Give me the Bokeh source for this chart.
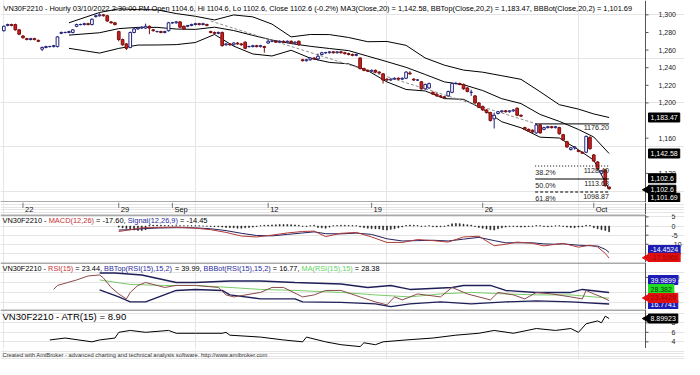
import math
from bokeh.plotting import figure
from bokeh.layouts import column
from bokeh.models import Range1d, Label
from bokeh.core.properties import value
from bokeh.embed import file_html
from bokeh.resources import INLINE

# ---------------- data ----------------
opens = [1282,1288,1289,1289,1283,1276,1273,1272,1273,1271,
         1261,1263,1264,1264,1264,1279,1280,1280,1280,1287,
         1289,1289,1290,1289,1298,1299,1300,1299,1292,1291,
         1281,1272,1267,1263,1280,1284,1285,1285,1287,1283,
         1281,1281,1280,1282,1291,1291,1292,1287,1287,1288,
         1289,1290,1289,1289,1281,1280,1279,1280,1266,1267,
         1266,1268,1267,1269,1264,1264,1265,1264,1264,1268,
         1270,1270,1269,1270,1269,1270,1268,1270,1249,1248,
         1249,1251,1250,1255,1257,1257,1258,1257,1258,1257,
         1256,1255,1254,1251,1239,1237,1236,1237,1235,1233,
         1227,1226,1227,1228,1227,1228,1234,1227,1226,1224,
         1216,1217,1212,1210,1208,1207,1208,1212,1222,1222,
         1221,1217,1212,1208,1200,1196,1192,1189,1182,1188,
         1190,1191,1190,1191,1194,1186,1172,1170,1169,1166,
         1175,1170,1172,1173,1172,1172,1164,1156,1147,1149,
         1146,1144,1144,1161,1141,1133,1120,1124,1104.6]
highs = [1288,1290,1290,1290,1284,1277,1274,1274,1274,1272,
         1264,1265,1265,1266,1276,1281,1281,1282,1284,1290,
         1290,1291,1291,1296,1300,1302,1301,1300,1293,1292,
         1282,1273,1268,1281,1285,1286,1287,1290,1288,1284,
         1282,1282,1282,1292,1292,1293,1293,1288,1288,1290,
         1291,1291,1291,1290,1282,1281,1281,1281,1268,1268,
         1269,1269,1268,1270,1265,1266,1266,1266,1265,1272,
         1271,1271,1271,1271,1271,1271,1270,1271,1250,1250,
         1252,1252,1256,1258,1258,1259,1259,1259,1259,1258,
         1257,1256,1256,1252,1240,1238,1238,1238,1236,1234,
         1228,1228,1229,1229,1229,1236,1236,1228,1227,1225,
         1222,1223,1213,1211,1209,1208,1214,1223,1224,1223,
         1222,1218,1215,1209,1201,1197,1193,1190,1189,1191,
         1192,1192,1192,1193,1195,1187,1173,1171,1170,1176.2,
         1176,1173,1174,1174,1174,1173,1165,1157,1150,1151,
         1147,1145,1163,1162,1142,1134,1124,1125,1104.6]
lows = [1281,1287,1287,1282,1277,1273,1271,1271,1271,1269,
        1259,1262,1263,1263,1263,1278,1279,1279,1279,1286,
        1288,1288,1288,1288,1297,1298,1298,1292,1290,1288,
        1270,1265,1260,1262,1279,1283,1284,1284,1278,1281,
        1280,1279,1279,1281,1290,1290,1285,1283,1286,1287,
        1288,1288,1288,1287,1279,1278,1278,1264,1265,1265,
        1265,1266,1265,1261,1263,1263,1263,1263,1257,1267,
        1269,1268,1268,1268,1268,1267,1267,1265,1247,1247,
        1248,1249,1248,1254,1256,1256,1256,1256,1256,1255,
        1254,1253,1253,1238,1236,1235,1235,1234,1233,1222,
        1225,1225,1226,1226,1226,1227,1232,1225,1225,1215,
        1215,1216,1209,1207,1206,1205,1207,1211,1221,1220,
        1215,1212,1208,1199,1194,1191,1188,1179,1171,1187,
        1189,1189,1189,1190,1185,1184,1169,1167,1166,1165,
        1165,1169,1171,1171,1171,1164,1157,1149,1146,1147,
        1144,1142,1143,1147,1133,1124,1118,1105,1102.6]
closes = [1287,1289,1288,1283,1278,1274,1272,1273,1272,1270,
          1263,1264,1264,1265,1275,1280,1280,1281,1283,1289,
          1289,1290,1289,1295,1299,1300,1299,1293,1291,1289,
          1272,1266,1262,1280,1284,1285,1286,1287,1285,1282,
          1281,1280,1281,1291,1291,1292,1286,1284,1288,1289,
          1290,1289,1290,1288,1280,1279,1280,1265,1267,1266,
          1268,1267,1266,1262,1264,1265,1264,1265,1263,1270,
          1270,1269,1270,1269,1270,1268,1269,1266,1248,1249,
          1251,1250,1253,1257,1257,1258,1257,1258,1257,1256,
          1255,1254,1255,1239,1237,1236,1237,1235,1234,1226,
          1226,1227,1228,1227,1228,1235,1233,1226,1226,1216,
          1221,1222,1210,1208,1207,1206,1213,1222,1222,1221,
          1216,1213,1212,1200,1195,1192,1189,1180,1186,1190,
          1191,1190,1191,1192,1186,1185,1170,1168,1167,1175,
          1166,1172,1173,1172,1173,1165,1158,1150,1149,1150,
          1145,1143,1162,1148,1134,1125,1123,1106,1102.6]

# Bollinger bands on price (sampled bars)
bb_x = [17, 25, 30, 35, 40, 45, 50, 55, 60, 65, 70, 75, 80, 85, 90, 95, 100, 105, 110, 115,
        120, 125, 130, 135, 140, 145, 150, 154, 158]
bb_top = [1291, 1302.7, 1306.8, 1305.9, 1305.7, 1301.5, 1298.4, 1294.2, 1299.9, 1297.7, 1289.5, 1275.0,
          1277.7, 1277.6, 1274.3, 1269.5, 1269.8, 1265.4, 1251.0, 1242.9, 1237.3, 1234.9, 1230.9, 1226.8,
          1212.7, 1198.0, 1193.0, 1187.5, 1183.47]
bb_mid = [1277, 1279.7, 1284.4, 1285.8, 1285.8, 1283.9, 1283.5, 1286.0, 1282.2, 1276.7, 1271.4, 1267.4,
          1264.3, 1261.8, 1259.4, 1253.1, 1246.9, 1240.4, 1232.3, 1223.9, 1220.7, 1214.1, 1204.8, 1199.3,
          1186.9, 1179.1, 1169.9, 1161.3, 1142.58]
bb_bot = [1262, 1256.6, 1261.9, 1265.7, 1265.8, 1266.2, 1268.6, 1277.7, 1264.5, 1255.6, 1253.3, 1259.8,
          1250.8, 1246.0, 1244.4, 1236.7, 1223.9, 1215.3, 1213.6, 1204.9, 1204.1, 1193.2, 1178.6, 1171.8,
          1161.1, 1160.2, 1146.8, 1135.0, 1101.69]

trend_x = [54, 139]
trend_y = [1293, 1176.2]

fib_levels = [1176.20, 1128.40, 1113.63, 1098.87]
fib_pct = ["", "38.2%", "50.0%", "61.8%"]
fib_vals = ["1176.20", "1128.40", "1113.63", "1098.87"]
fib_x = [138.7, 158]

date_ticks = [5, 30, 44, 69, 96, 125, 154]
date_labels = ["22", "29", "Sep", "12", "19", "26", "Oct"]
price_ticks = [1120, 1160, 1200, 1220, 1240, 1260, 1280, 1300]

# MACD
macd_x = [30, 33, 36, 40, 45, 50, 54, 58, 62, 66, 70, 74, 78, 81, 84, 88, 92, 96, 100, 104,
          108, 112, 116, 120, 124, 128, 131, 134, 138, 141, 144, 146, 150, 153, 155, 157, 158]
macd = [-3.0, -2.0, -1.0, -0.8, -0.6, -1.2, -2.0, -3.5, -5.5, -6.0, -5.0, -3.8, -3.0, -2.8, -5.8,
        -4.0, -3.5, -6.0, -9.0, -9.0, -7.4, -8.0, -8.8, -6.0, -5.6, -10.8, -10.0, -8.8, -9.5, -10.9,
        -10.0, -9.5, -11.6, -10.5, -11.5, -15.0, -17.6]
signal = [-2.2, -2.0, -1.5, -1.1, -0.9, -1.0, -1.5, -2.5, -4.0, -5.2, -5.4, -4.6, -3.8, -3.2, -4.2,
          -4.3, -3.9, -4.6, -7.0, -8.2, -8.0, -7.8, -8.2, -7.2, -6.2, -8.0, -9.2, -9.2, -9.2, -9.8,
          -10.0, -9.8, -10.5, -10.8, -11.0, -12.8, -14.45]
hist_start = 30
hist = [-0.6, -1.0, -1.4, -1.8, -2.2, -2.4, -2.4, -2.0,
        0.4, 0.5, 0.5, 0.4, 0.3, 0.3, 0.2, 0.2,
        0.2, 0.1, 0.1, 0.2, 0.2, 0.1, 0.0, -0.1, -0.2, -0.3,
        -0.4, -0.6, -0.8, -0.9, -1.0, -1.2, -1.2, -1.0, -0.8, -0.6, -0.3,
        0.2, 0.4, 0.5, 0.6, 0.7, 0.8, 0.8, 0.8, 0.7, 0.6, 0.4,
        -0.2, -0.3, 0.2, 0.4, -0.8, -1.0, -1.2, -0.6, 0.2, 0.3, 0.4, 0.4, 0.3, 0.3, 0.2,
        -0.5, -0.9, -1.2, -1.4, -1.5, -1.6, -2.0, -2.2, -1.8, -1.5, -1.0, -0.5, 0.3, 0.5, 0.4,
        0.3, -0.2, -0.1, 0.2, -0.4, -0.5, -0.4, -0.2, 0.5, 1.2, 1.4, 1.3, 1.0, 0.7, 0.5,
        -0.3, -0.8, -1.2, -1.6, -2.0, -2.2, -1.5, -1.0, -0.6, -0.3, -0.2, -0.4, -0.6, -0.5, -0.3,
        -0.2, 0.3, 0.2, -0.3, -0.4, -0.2, 0.1, 0.2, -0.2, -0.6, -0.8, -0.9, -0.6,
        -0.4, 0.4, 0.3, -0.9, -1.5, -2.0, -2.4, -3.15]
macd_ticks = [-10, -5, 0, 5]

# RSI
rsi_x = [13, 14, 19, 22, 25, 26, 28, 30, 32, 33, 35, 37, 42, 45, 50, 56, 58, 60, 67, 70, 73, 78, 81, 84,
         88, 93, 97, 100, 102, 104, 108, 114, 117, 121, 124, 127, 129, 133, 136, 139, 143, 148, 151,
         152, 154, 156, 158]
rsi = [46, 54, 65, 73, 75, 69, 50, 37, 27, 40, 54, 60, 50, 54, 54, 50, 35, 31, 40, 50, 50, 31, 35, 44,
       44, 31, 21, 15, 31, 25, 37, 31, 50, 37, 31, 25, 40, 35, 27, 40, 37, 31, 27, 44, 37, 31, 23.44]
rsi_top_x = [25, 29, 36, 45, 50, 59, 67, 76, 88, 95, 101, 106, 117, 120, 127, 131, 139, 148, 151, 158]
rsi_top = [79, 79, 75, 60, 60, 63, 63, 60, 57, 50, 54, 46, 50, 54, 54, 44, 40, 40, 46, 39.99]
rsi_bot_x = [25, 30, 33, 37, 45, 50, 57, 59, 67, 76, 78, 88, 97, 101, 106, 114, 122, 131, 139, 148, 158]
rsi_bot = [45, 31, 21, 21, 44, 46, 44, 35, 27, 27, 21, 20, 17, 11.5, 17, 21, 17, 21, 23, 21, 16.77]
rsi_ma_x = [25, 33, 42, 50, 59, 67, 76, 88, 97, 106, 114, 122, 131, 139, 148, 158]
rsi_ma = [65, 56, 54, 54, 50, 46, 44, 40, 35, 31, 37, 40, 37, 35, 35, 28.38]
rsi_ticks = [70]

# ATR
atr_x = [12, 16, 23, 25, 29, 30, 33, 37, 43, 45, 50, 57, 58, 59, 67, 73, 78, 79, 84, 88,
         93, 94, 97, 99, 105, 112, 118, 124, 128, 133, 139, 144, 148, 150, 152, 155, 156, 157, 158]
atr = [4.4, 4.8, 4.0, 4.4, 4.8, 6.0, 6.4, 6.0, 6.4, 5.8, 5.8, 5.8, 6.0, 5.4, 5.0, 4.4, 4.0, 5.0, 4.0, 3.4,
       3.0, 3.8, 3.4, 4.0, 4.4, 4.8, 5.4, 5.8, 6.4, 5.8, 6.8, 6.4, 6.8, 6.0, 7.8, 8.4, 8.0, 9.4, 8.9]
atr_ticks = [4, 6, 8]

# ---------------- layout ----------------
TOTAL_W = 684
PLOT_W = 645
XS = -0.87
AX = 167.5                       # bar position of the value-axis line
PXB = PLOT_W / (AX - XS)         # pixels per bar
XR = Range1d(XS, XS + TOTAL_W / PXB)
FONT = "Liberation Sans"
RED = "#c83232"
BLUE = "#2b2b9c"
GREEN = "#5fd35f"
SEP = "#555555"
AXC = "#555555"
TFS = 7.0

AW = dict(zip("ABCDEFGHIJKLMNOPQRSTUVWXYZ",
              [667,667,722,722,667,611,778,722,278,500,667,556,833,722,778,667,778,722,667,611,722,667,944,667,667,611]))
AW.update(zip("abcdefghijklmnopqrstuvwxyz",
              [556,556,500,556,556,278,556,556,222,222,500,222,833,556,556,556,556,333,500,278,556,500,722,500,500,500]))
AW.update({c: 556 for c in "0123456789"})
AW.update({" ": 278, ",": 278, ".": 278, ":": 278, "/": 278, "-": 333, "(": 333, ")": 333, "=": 584, "%": 889})


def em(s):
    return sum(AW.get(c, 556) for c in s) / 1000.0


def mkfig(h, yr):
    p = figure(frame_width=TOTAL_W, frame_height=h, x_range=XR, y_range=yr,
               output_backend="svg", toolbar_location=None,
               x_axis_location=None, y_axis_location=None,
               min_border_left=0, min_border_right=0, min_border_top=0, min_border_bottom=0,
               background_fill_color="white", border_fill_color="white")
    p.outline_line_color = None
    return p


def px2y(p, d):
    return d * (p.y_range.end - p.y_range.start) / p.frame_height


def frame_lines(p, top=False, bottom=False, vline=True):
    yr = p.y_range
    d = px2y(p, 0.5)
    if top:
        p.segment(x0=[XS], y0=[yr.end - d], x1=[AX], y1=[yr.end - d], line_color=SEP, line_width=1)
    if bottom:
        p.segment(x0=[XS], y0=[yr.start + d], x1=[AX], y1=[yr.start + d], line_color=SEP, line_width=1)
    if vline:
        p.segment(x0=[AX], y0=[yr.start], x1=[AX], y1=[yr.end], line_color=AXC, line_width=1)


def yticks(p, ticks, labels, off):
    n = len(ticks)
    p.segment(x0=[AX] * n, y0=ticks, x1=[AX + 3 / PXB] * n, y1=ticks, line_color=AXC, line_width=1)
    p.text(x=[AX] * n, y=ticks, text=labels, x_offset=off, text_baseline="middle", text_align="left",
           text_font=value(FONT), text_font_size=value("7px"), text_color="#222222")


def title(p, segs, left, width, yoff=-1):
    full = "".join(s for s, c in segs)
    fs = width / em(full)
    x = left
    for s, c in segs:
        lead = len(s) - len(s.lstrip())
        txt = s.strip()
        if txt:
            p.add_layout(Label(x=XS, y=p.y_range.end, x_offset=x + em(s[:lead]) * fs, y_offset=yoff,
                               text=txt, text_color=c, text_font=FONT, text_font_size="%.2fpx" % fs,
                               text_baseline="top", text_align="left"))
        x += em(s) * fs


def tag(p, yv, txt, bg, fg, dy=0, arrow=False):
    y = yv + px2y(p, dy)
    w = em(txt) * TFS + 4
    cx = AX + (3 + w / 2) / PXB
    if arrow:
        p.scatter(x=[AX + 1.5 / PXB], y=[y], marker="triangle", size=8, angle=math.pi / 2,
                  fill_color=bg, line_color=bg)
    p.rect(x=[cx], y=[y], width=w, height=9, width_units="screen", height_units="screen",
           fill_color=bg, line_color=bg)
    p.text(x=[AX], y=[y], text=[txt], x_offset=5, text_baseline="middle", text_align="left",
           text_font=value(FONT), text_font_size=value("%.1fpx" % TFS), text_color=fg)


# ---- main price pane ----
pm = mkfig(202, Range1d(1086.96, 1316.3))
frame_lines(pm, bottom=True)
yticks(pm, price_ticks, ["{:,}".format(t) for t in price_ticks], 13)

idx = list(range(len(closes)))
up = [c >= o for o, c in zip(opens, closes)]
cs = dict(
    x=idx, o=opens, h=highs, l=lows, c=closes,
    top=[max(o, c) for o, c in zip(opens, closes)],
    bot=[min(o, c) for o, c in zip(opens, closes)],
    fill=["white" if u else "#cc1f1f" for u in up],
    line=["#23237a" if u else "#7a1010" for u in up],
)
pm.line(bb_x, bb_top, line_color="black", line_width=1)
pm.line(bb_x, bb_mid, line_color="black", line_width=1)
pm.line(bb_x, bb_bot, line_color="black", line_width=1)
pm.line(trend_x, trend_y, line_color="#8c8c8c", line_width=1, line_dash="3 2")

pm.segment(x0="x", y0="l", x1="x", y1="h", line_color="line", line_width=1, source=cs)
pm.vbar(x="x", width=0.7, top="top", bottom="bot", fill_color="fill", line_color="line", line_width=1, source=cs)

dashes = ["solid", "1 2", "solid", "3 2"]
for lv, d in zip(fib_levels, dashes):
    pm.line(fib_x, [lv, lv], line_color="black", line_width=1, line_dash=d)
pm.text(x=[fib_x[0]] * 3, y=fib_levels[1:], text=fib_pct[1:], text_font=value(FONT),
        text_font_size=value("7.2px"), text_baseline="top", text_align="left", y_offset=1.5,
        text_color="#222222")
pm.text(x=[fib_x[1]] * 4, y=fib_levels, text=fib_vals, text_font=value(FONT),
        text_font_size=value("7.2px"), text_baseline="top", text_align="right", y_offset=1.5,
        text_color="#222222")

title(pm, [("VN30F2210 - Hourly 03/10/2022 2:30:00 PM Open 1104.6, Hi 1104.6, Lo 1102.6, Close 1102.6 (-0.2%) "
            "MA3(Close,20) = 1,142.58, BBTop(Close,20,2) = 1,183.47, BBBot(Close,20,2) = 1,101.69", "black")],
      3, 632, yoff=-3)

tag(pm, 1183.47, "1,183.47", "black", "white")
tag(pm, 1142.58, "1,142.58", "black", "white")
tag(pm, 1102.6, "1,102.6", "black", "white", dy=10.5)
tag(pm, 1102.6, "1,102.6", "black", "white", dy=-1, arrow=True)
tag(pm, 1101.69, "1,101.69", "black", "white", dy=-8.2)

# ---- date strip ----
pdt = mkfig(12, Range1d(0, 1))
frame_lines(pdt)
pdt.segment(x0=date_ticks, y0=[1] * len(date_ticks), x1=date_ticks, y1=[0.55] * len(date_ticks),
            line_color="#777777", line_width=1)
pdt.text(x=date_ticks, y=[0.45] * len(date_ticks), text=date_labels, text_font=value(FONT),
         text_font_size=value("7.5px"), text_baseline="middle", text_align="left", x_offset=2,
         text_color="#111111")

# ---- MACD pane ----
pmacd = mkfig(48, Range1d(-20, 6.32))
frame_lines(pmacd, top=True)
yticks(pmacd, macd_ticks, [str(t) for t in macd_ticks], 26)
hx = [hist_start + k for k in range(len(hist))]
pmacd.vbar(x=hx, width=0.25, top=hist, bottom=0, fill_color="#222222", line_color="#222222", line_width=0.6)
pmacd.line(macd_x, signal, line_color="#22225e", line_width=1)
pmacd.line(macd_x, macd, line_color="#b03a3a", line_width=1)
title(pmacd, [("VN30F2210 - ", "black"), ("MACD(12,26)", RED), (" = -17.60, ", "black"),
              ("Signal(12,26,9)", BLUE), (" = -14.45", "black")], 2, 205)
tag(pmacd, -14.45, "-14.4524", "#1c1cb4", "white", dy=2.4)
tag(pmacd, -17.60, "-17.5966", "#e01010", "#a00000", dy=0.3, arrow=True)

# ---- RSI pane ----
prsi = mkfig(47, Range1d(5.77, 100))
frame_lines(prsi, top=True)
yticks(prsi, rsi_ticks, [str(t) for t in rsi_ticks], 26)
prsi.line(rsi_ma_x, rsi_ma, line_color="#7acb6a", line_width=1)
prsi.line(rsi_top_x, rsi_top, line_color="#1f1f5a", line_width=1.4)
prsi.line(rsi_bot_x, rsi_bot, line_color="#1f1f5a", line_width=1.4)
prsi.line(rsi_x, rsi, line_color="#8a4a4a", line_width=1)
title(prsi, [("VN30F2210 - ", "black"), ("RSI(15)", RED), (" = 23.44, ", "black"),
             ("BBTop(RSI(15),15,2)", BLUE), (" = 39.99, ", "black"),
             ("BBBot(RSI(15),15,2)", BLUE), (" = 16.77, ", "black"),
             ("MA(RSI(15),15)", GREEN), (" = 28.38", "black")], 2, 377)
tag(prsi, 39.99, "39.9899", "#1c1cb4", "white", dy=12.4)
tag(prsi, 28.38, "28.382", "#22dd22", "#104010", dy=9.2)
tag(prsi, 16.77, "16.7741", "#1c1cb4", "white", dy=-0.9)
tag(prsi, 23.44, "23.4429", "#e01010", "#a00000", dy=2.7, arrow=True)

# ---- ATR pane ----
patr = mkfig(39, Range1d(2.6, 10.8))
frame_lines(patr, top=True)
yticks(patr, atr_ticks, [str(t) for t in atr_ticks], 26)
patr.line(atr_x, atr, line_color="black", line_width=1)
title(patr, [("VN30F2210 - ATR(15) = 8.90", "black")], 2, 125)
tag(patr, 8.9, "8.89923", "black", "white", arrow=True)

# ---- footer ----
pft = mkfig(11, Range1d(0, 1))
pft.text(x=[XS], y=[0.5], text=["Created with AmiBroker - advanced charting and technical analysis software. http://www.amibroker.com"],
         text_font=value(FONT), text_font_size=value("5.8px"), text_baseline="middle", text_align="left",
         x_offset=2, text_color="#333333")

layout = column(pm, pdt, pmacd, prsi, patr, pft, spacing=0)
open("out.html", "w").write(file_html(layout, INLINE))
